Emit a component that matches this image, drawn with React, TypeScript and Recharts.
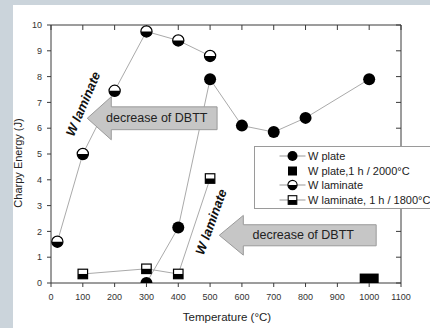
import React from 'react';
import { ComposedChart, Scatter, XAxis, YAxis, ReferenceArea, ReferenceDot } from 'recharts';

const FONT = '"Liberation Sans", Arial, Helvetica, sans-serif';

// ---- data ----
const xTicks = [0, 100, 200, 300, 400, 500, 600, 700, 800, 900, 1000, 1100];
const yTicks = [0, 1, 2, 3, 4, 5, 6, 7, 8, 9, 10];

const seriesNames = ['W plate', 'W plate,1 h / 2000°C', 'W laminate', 'W laminate, 1 h / 1800°C'];

const plateT = [300, 400, 500, 600, 700, 800, 1000];
const plateE = [0, 2.15, 7.9, 6.1, 5.85, 6.4, 7.9];

const plate2000T = [1000];
const plate2000E = [0.18];

const lamT = [20, 100, 200, 300, 400, 500];
const lamE = [1.6, 5.0, 7.45, 9.75, 9.4, 8.8];

const lam1800T = [100, 300, 400, 500];
const lam1800E = [0.35, 0.55, 0.35, 4.05];

const arrowText = 'decrease of DBTT';
const arrowX1 = [114, 529];
const arrowX2 = [522, 1022];
const arrowY1 = [5.55, 1.08];
const arrowY2 = [7.22, 2.62];

const rotLabel = 'W laminate';
const rotLabelX = [101, 503];
const rotLabelY = [6.94, 2.37];
const rotLabelAngle = [-67, -70];

const xLabel = 'Temperature (°C)';
const yLabel = 'Charpy Energy (J)';

const toPts = (xs: number[], ys: number[]) => xs.map((x, i) => ({ x, y: ys[i] }));

const plateData = toPts(plateT, plateE);
const plate2000Data = toPts(plate2000T, plate2000E);
const lamData = toPts(lamT, lamE);
const lam1800Data = toPts(lam1800T, lam1800E);

// ---- marker shapes ----
const FilledCircle = (p: any) => <circle cx={p.cx} cy={p.cy} r={6} fill="#000" />;

const HalfCircle = (p: any) => {
  const { cx, cy } = p;
  const r = 5.6;
  return (
    <g>
      <circle cx={cx} cy={cy} r={r} fill="#fff" stroke="#000" strokeWidth={1.2} />
      <path d={`M${cx - r},${cy} A${r},${r} 0 0 0 ${cx + r},${cy} Z`} fill="#000" />
    </g>
  );
};

const HalfSquare = (p: any) => {
  const { cx, cy } = p;
  const s = 9.5;
  return (
    <g>
      <rect x={cx - s / 2} y={cy - s / 2} width={s} height={s} fill="#fff" stroke="#000" strokeWidth={1.2} />
      <rect x={cx - s / 2} y={cy} width={s} height={s / 2} fill="#000" />
    </g>
  );
};

const WideRect = (p: any) => {
  const { cx, cy } = p;
  return <rect x={cx - 9.5} y={cy - 4.8} width={19} height={9.6} fill="#000" />;
};

const NoShape = () => <g />;

const Arrow = (p: any) => {
  const { x, y, width: w, height: h } = p;
  const head = Math.min(24, w * 0.2);
  const inset = h * 0.235;
  const d = [
    `M${x},${y + h / 2}`,
    `L${x + head},${y}`,
    `L${x + head},${y + inset}`,
    `L${x + w},${y + inset}`,
    `L${x + w},${y + h - inset}`,
    `L${x + head},${y + h - inset}`,
    `L${x + head},${y + h}`,
    'Z',
  ].join(' ');
  return (
    <g>
      <path d={d} fill="#c6c6c6" stroke="#9a9a9a" strokeWidth={1} />
      <text
        x={x + w * 0.535}
        y={y + h / 2}
        textAnchor="middle"
        dominantBaseline="central"
        fontFamily={FONT}
        fontSize={12.5}
        fill="#222"
      >
        {arrowText}
      </text>
    </g>
  );
};

const makeRot = (angle: number) => (p: any) => (
  <text
    x={p.cx}
    y={p.cy}
    transform={`rotate(${angle}, ${p.cx}, ${p.cy})`}
    textAnchor="middle"
    dominantBaseline="central"
    fontFamily={FONT}
    fontSize={13}
    fontWeight="bold"
    fontStyle="italic"
    fill="#111"
  >
    {rotLabel}
  </text>
);

const YLabel = (p: any) => {
  const vb = p.viewBox || { x: 0, y: 25, width: 51, height: 258 };
  const cx = 18;
  const cy = vb.y + vb.height / 2 + 9;
  return (
    <text
      x={cx}
      y={cy}
      transform={`rotate(-90, ${cx}, ${cy})`}
      textAnchor="middle"
      dominantBaseline="central"
      fontFamily={FONT}
      fontSize={11}
      fill="#222"
    >
      {yLabel}
    </text>
  );
};

const XLabel = (p: any) => {
  const vb = p.viewBox || { x: 51, y: 283, width: 350, height: 45 };
  return (
    <text
      x={vb.x + vb.width / 2 + 1}
      y={321}
      textAnchor="middle"
      fontFamily={FONT}
      fontSize={11.5}
      fill="#222"
    >
      {xLabel}
    </text>
  );
};

// ---- legend ----
const legendIcons = [
  (cx: number, cy: number) => (
    <g>
      <line x1={cx - 13} x2={cx + 13} y1={cy} y2={cy} stroke="#999" />
      <circle cx={cx} cy={cy} r={5} fill="#000" />
    </g>
  ),
  (cx: number, cy: number) => <rect x={cx - 4.5} y={cy - 4.5} width={9} height={9} fill="#000" />,
  (cx: number, cy: number) => (
    <g>
      <line x1={cx - 13} x2={cx + 13} y1={cy} y2={cy} stroke="#999" />
      <circle cx={cx} cy={cy} r={4.6} fill="#fff" stroke="#000" strokeWidth={1.1} />
      <path d={`M${cx - 4.6},${cy} A4.6,4.6 0 0 0 ${cx + 4.6},${cy} Z`} fill="#000" />
    </g>
  ),
  (cx: number, cy: number) => (
    <g>
      <line x1={cx - 13} x2={cx + 13} y1={cy} y2={cy} stroke="#999" />
      <rect x={cx - 4.3} y={cy - 4.3} width={8.6} height={8.6} fill="#fff" stroke="#000" strokeWidth={1.1} />
      <rect x={cx - 4.3} y={cy} width={8.6} height={4.3} fill="#000" />
    </g>
  ),
];

const LegendBox = () => (
  <div
    style={{
      position: 'absolute',
      left: 254,
      top: 146,
      width: 190,
      height: 63,
      border: '1px solid #9a9a9a',
      background: '#fff',
      boxSizing: 'border-box',
    }}
  >
    {seriesNames.map((name, i) => (
      <div
        key={name}
        style={{
          position: 'absolute',
          left: 0,
          top: 2 + i * 14.5,
          height: 14.5,
          display: 'flex',
          alignItems: 'center',
          fontFamily: FONT,
          fontSize: 11,
          color: '#222',
          whiteSpace: 'nowrap',
        }}
      >
        <svg width={52} height={14} style={{ display: 'block' }}>
          {legendIcons[i](37.5, 7)}
        </svg>
        <span style={{ marginLeft: 1 }}>{name}</span>
      </div>
    ))}
  </div>
);

export default function App() {
  const axisStroke = '#3a3a3a';
  const tickStyle = { fontSize: 9, fill: '#333', fontFamily: FONT };
  return (
    <div
      style={{
        position: 'fixed',
        left: 0,
        top: 0,
        width: 430,
        height: 328,
        overflow: 'hidden',
        background: '#cbd4db',
      }}
    >
      <div style={{ position: 'absolute', left: 13, top: 5, width: 417, height: 323, background: '#fff' }} />
      <div style={{ position: 'absolute', left: 0, top: 0 }}>
        <ComposedChart width={430} height={328} margin={{ top: 25, right: 29, bottom: 0, left: 0 }}>
          <XAxis
            xAxisId="b"
            type="number"
            dataKey="x"
            domain={[0, 1100]}
            ticks={xTicks}
            interval={0}
            allowDataOverflow
            height={45}
            stroke={axisStroke}
            tickSize={4}
            tickMargin={7}
            tick={tickStyle}
            label={<XLabel />}
          />
          <XAxis
            xAxisId="t"
            type="number"
            dataKey="x"
            orientation="top"
            mirror
            height={20}
            domain={[0, 1100]}
            ticks={xTicks}
            interval={0}
            allowDataOverflow
            stroke={axisStroke}
            tickSize={5}
            tickFormatter={() => ''}
          />
          <YAxis
            yAxisId="l"
            type="number"
            dataKey="y"
            domain={[0, 10]}
            ticks={yTicks}
            interval={0}
            allowDataOverflow
            width={51}
            stroke={axisStroke}
            tickSize={4}
            tickMargin={5}
            tick={tickStyle}
            label={<YLabel />}
          />
          <YAxis
            yAxisId="r"
            type="number"
            dataKey="y"
            orientation="right"
            mirror
            width={20}
            domain={[0, 10]}
            ticks={yTicks}
            interval={0}
            allowDataOverflow
            stroke={axisStroke}
            tickSize={5}
            tickFormatter={() => ''}
          />
          <Scatter
            data={plateData}
            xAxisId="t"
            yAxisId="r"
            shape={NoShape}
            legendType="none"
            isAnimationActive={false}
          />
          <Scatter
            name={seriesNames[0]}
            data={plateData}
            xAxisId="b"
            yAxisId="l"
            line={{ stroke: '#aaa', strokeWidth: 1 }}
            lineType="joint"
            shape={FilledCircle}
            isAnimationActive={false}
          />
          <Scatter
            name={seriesNames[1]}
            data={plate2000Data}
            xAxisId="b"
            yAxisId="l"
            shape={WideRect}
            isAnimationActive={false}
          />
          <Scatter
            name={seriesNames[2]}
            data={lamData}
            xAxisId="b"
            yAxisId="l"
            line={{ stroke: '#aaa', strokeWidth: 1 }}
            lineType="joint"
            shape={HalfCircle}
            isAnimationActive={false}
          />
          <Scatter
            name={seriesNames[3]}
            data={lam1800Data}
            xAxisId="b"
            yAxisId="l"
            line={{ stroke: '#aaa', strokeWidth: 1 }}
            lineType="joint"
            shape={HalfSquare}
            isAnimationActive={false}
          />
          {arrowX1.map((x1, i) => (
            <ReferenceArea
              key={'a' + i}
              xAxisId="b"
              yAxisId="l"
              x1={x1}
              x2={arrowX2[i]}
              y1={arrowY1[i]}
              y2={arrowY2[i]}
              zIndex={1000}
              shape={(p: any) => <Arrow {...p} />}
            />
          ))}
          {rotLabelX.map((x, i) => (
            <ReferenceDot
              key={'r' + i}
              xAxisId="b"
              yAxisId="l"
              x={x}
              y={rotLabelY[i]}
              r={0}
              zIndex={1000}
              shape={makeRot(rotLabelAngle[i])}
            />
          ))}
        </ComposedChart>
      </div>
      <LegendBox />
    </div>
  );
}
